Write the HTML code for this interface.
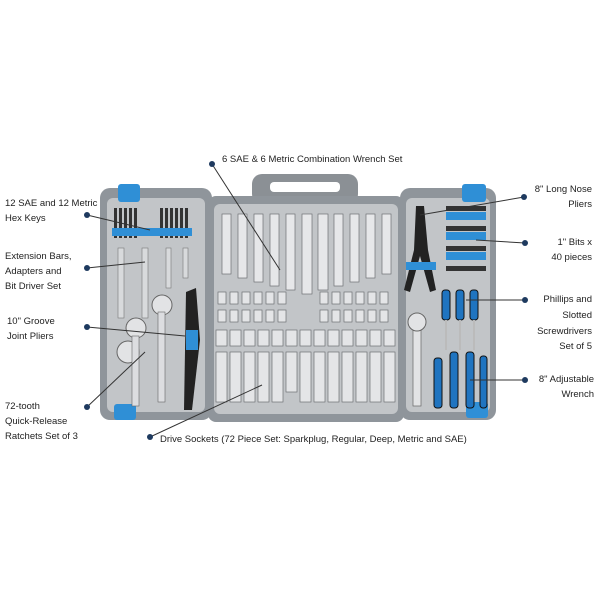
<!DOCTYPE html>
<html><head><meta charset="utf-8"><style>
html,body{margin:0;padding:0;background:#fff;}
svg{display:block}
text{font-family:"Liberation Sans",sans-serif;font-size:9.5px;fill:#222;}
</style></head><body>
<svg width="600" height="600" viewBox="0 0 600 600" xmlns="http://www.w3.org/2000/svg">
<rect x="252" y="174" width="106" height="30" rx="10" fill="#8b9095"/>
<rect x="270" y="182" width="70" height="10" rx="4" fill="#fff"/>
<rect x="100" y="188" width="112" height="232" rx="10" fill="#8f959b"/>
<rect x="208" y="196" width="196" height="226" rx="8" fill="#8f959b"/>
<rect x="400" y="188" width="96" height="232" rx="10" fill="#8f959b"/>
<rect x="107" y="198" width="98" height="214" rx="6" fill="#c2c5c8"/>
<rect x="214" y="204" width="184" height="210" rx="6" fill="#c2c5c8"/>
<rect x="406" y="198" width="84" height="214" rx="6" fill="#c2c5c8"/>
<rect x="118" y="184" width="22" height="18" rx="3" fill="#2f8fd6"/>
<rect x="114" y="404" width="22" height="16" rx="3" fill="#2f8fd6"/>
<rect x="462" y="184" width="24" height="18" rx="3" fill="#2f8fd6"/>
<rect x="466" y="402" width="22" height="16" rx="3" fill="#2f8fd6"/>
<g fill="#333">
<rect x="114" y="208" width="3" height="30"/><rect x="119" y="208" width="3" height="30"/><rect x="124" y="208" width="3" height="30"/><rect x="129" y="208" width="3" height="30"/><rect x="134" y="208" width="3" height="30"/>
<rect x="160" y="208" width="3" height="30"/><rect x="165" y="208" width="3" height="30"/><rect x="170" y="208" width="3" height="30"/><rect x="175" y="208" width="3" height="30"/><rect x="180" y="208" width="3" height="30"/><rect x="185" y="208" width="3" height="30"/>
</g>
<rect x="112" y="228" width="80" height="8" fill="#2f8fd6"/>
<g fill="#d8dadc" stroke="#777" stroke-width="0.6">
<rect x="118" y="248" width="6" height="70"/><rect x="142" y="248" width="6" height="70"/><rect x="166" y="248" width="5" height="40"/><rect x="183" y="248" width="5" height="30"/>
</g>
<circle cx="162" cy="305" r="10" fill="#e2e3e5" stroke="#666"/>
<circle cx="136" cy="328" r="10" fill="#e2e3e5" stroke="#666"/>
<circle cx="128" cy="352" r="11" fill="#e2e3e5" stroke="#666"/>
<rect x="158" y="312" width="7" height="90" fill="#dcdde0" stroke="#666" stroke-width="0.6"/>
<rect x="132" y="336" width="7" height="70" fill="#dcdde0" stroke="#666" stroke-width="0.6"/>
<path d="M186 292 L196 288 L200 340 L192 410 L184 410 Z" fill="#222"/>
<rect x="186" y="330" width="12" height="20" fill="#2f8fd6"/>
<g fill="#e6e7e9" stroke="#6d7074" stroke-width="0.7">
<rect x="222" y="214" width="9" height="60"/><rect x="238" y="214" width="9" height="64"/><rect x="254" y="214" width="9" height="68"/><rect x="270" y="214" width="9" height="72"/><rect x="286" y="214" width="9" height="76"/><rect x="302" y="214" width="10" height="80"/><rect x="318" y="214" width="10" height="76"/><rect x="334" y="214" width="9" height="72"/><rect x="350" y="214" width="9" height="68"/><rect x="366" y="214" width="9" height="64"/><rect x="382" y="214" width="9" height="60"/>
</g>
<g fill="#e4e5e7" stroke="#6d7074" stroke-width="0.7">
<g id="r1">
<rect x="218" y="292" width="8" height="12"/><rect x="230" y="292" width="8" height="12"/><rect x="242" y="292" width="8" height="12"/><rect x="254" y="292" width="8" height="12"/><rect x="266" y="292" width="8" height="12"/><rect x="278" y="292" width="8" height="12"/>
<rect x="320" y="292" width="8" height="12"/><rect x="332" y="292" width="8" height="12"/><rect x="344" y="292" width="8" height="12"/><rect x="356" y="292" width="8" height="12"/><rect x="368" y="292" width="8" height="12"/><rect x="380" y="292" width="8" height="12"/>
</g>
<use href="#r1" y="18"/>
<g>
<rect x="216" y="330" width="11" height="16"/><rect x="230" y="330" width="11" height="16"/><rect x="244" y="330" width="11" height="16"/><rect x="258" y="330" width="11" height="16"/><rect x="272" y="330" width="11" height="16"/><rect x="286" y="330" width="11" height="16"/><rect x="300" y="330" width="11" height="16"/><rect x="314" y="330" width="11" height="16"/><rect x="328" y="330" width="11" height="16"/><rect x="342" y="330" width="11" height="16"/><rect x="356" y="330" width="11" height="16"/><rect x="370" y="330" width="11" height="16"/><rect x="384" y="330" width="11" height="16"/>
</g>
<g>
<rect x="216" y="352" width="11" height="50"/><rect x="230" y="352" width="11" height="50"/><rect x="244" y="352" width="11" height="50"/><rect x="258" y="352" width="11" height="50"/><rect x="272" y="352" width="11" height="50"/><rect x="286" y="352" width="11" height="40"/><rect x="300" y="352" width="11" height="50"/><rect x="314" y="352" width="11" height="50"/><rect x="328" y="352" width="11" height="50"/><rect x="342" y="352" width="11" height="50"/><rect x="356" y="352" width="11" height="50"/><rect x="370" y="352" width="11" height="50"/><rect x="384" y="352" width="11" height="50"/>
</g>
</g>
<path d="M416 206 L424 206 L428 250 L436 290 L430 292 L420 256 L410 292 L404 290 L414 250 Z" fill="#222"/>
<rect x="406" y="262" width="30" height="8" fill="#2f8fd6"/>
<g fill="#2f8fd6"><rect x="446" y="212" width="40" height="8"/><rect x="446" y="232" width="40" height="8"/><rect x="446" y="252" width="40" height="8"/></g>
<g fill="#333"><rect x="446" y="206" width="40" height="5"/><rect x="446" y="226" width="40" height="5"/><rect x="446" y="246" width="40" height="5"/><rect x="446" y="266" width="40" height="5"/></g>
<g fill="#1f74c0" stroke="#111" stroke-width="1">
<rect x="442" y="290" width="8" height="30" rx="3"/><rect x="456" y="290" width="8" height="30" rx="3"/><rect x="470" y="290" width="8" height="30" rx="3"/>
<rect x="434" y="358" width="8" height="50" rx="3"/><rect x="450" y="352" width="8" height="56" rx="3"/><rect x="466" y="352" width="8" height="56" rx="3"/><rect x="480" y="356" width="7" height="52" rx="3"/>
</g>
<g fill="#bbb"><rect x="445" y="320" width="2" height="30"/><rect x="459" y="320" width="2" height="30"/><rect x="473" y="320" width="2" height="30"/></g>
<rect x="413" y="318" width="8" height="88" fill="#e2e3e5" stroke="#666" stroke-width="0.7"/>
<circle cx="417" cy="322" r="9" fill="#e2e3e5" stroke="#666"/>
<g stroke="#333" stroke-width="1" fill="none">
<line x1="212" y1="164" x2="280" y2="270"/>
<line x1="87" y1="215" x2="150" y2="230"/>
<line x1="87" y1="268" x2="145" y2="262"/>
<line x1="87" y1="327" x2="185" y2="336"/>
<line x1="87" y1="407" x2="145" y2="352"/>
<line x1="150" y1="437" x2="262" y2="385"/>
<line x1="524" y1="197" x2="420" y2="215"/>
<line x1="525" y1="243" x2="476" y2="240"/>
<line x1="525" y1="300" x2="466" y2="300"/>
<line x1="525" y1="380" x2="470" y2="380"/>
</g>
<g fill="#1e3a5f">
<circle cx="212" cy="164" r="3"/><circle cx="87" cy="215" r="3"/><circle cx="87" cy="268" r="3"/><circle cx="87" cy="327" r="3"/><circle cx="87" cy="407" r="3"/><circle cx="150" cy="437" r="3"/><circle cx="524" cy="197" r="3"/><circle cx="525" cy="243" r="3"/><circle cx="525" cy="300" r="3"/><circle cx="525" cy="380" r="3"/>
</g>
<text x="222" y="162">6 SAE &amp; 6 Metric Combination Wrench Set</text>
<text x="5" y="206">12 SAE and 12 Metric</text><text x="5" y="221">Hex Keys</text>
<text x="5" y="259">Extension Bars,</text><text x="5" y="274">Adapters and</text><text x="5" y="289">Bit Driver Set</text>
<text x="7" y="324">10" Groove</text><text x="7" y="339">Joint Pliers</text>
<text x="5" y="409">72-tooth</text><text x="5" y="424">Quick-Release</text><text x="5" y="439">Ratchets Set of 3</text>
<text x="160" y="442">Drive Sockets (72 Piece Set: Sparkplug, Regular, Deep,  Metric and SAE)</text>
<g text-anchor="end">
<text x="592" y="192">8" Long Nose</text><text x="592" y="207">Pliers</text>
<text x="592" y="245">1" Bits x</text><text x="592" y="260">40 pieces</text>
<text x="592" y="302">Phillips and</text><text x="592" y="318">Slotted</text><text x="592" y="334">Screwdrivers</text><text x="592" y="349">Set of 5</text>
<text x="594" y="382">8" Adjustable</text><text x="594" y="397">Wrench</text>
</g>
</svg>
</body></html>
